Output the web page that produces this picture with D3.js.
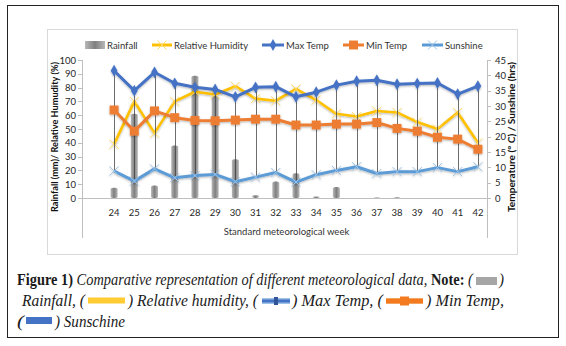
<!DOCTYPE html>
<html lang="en">
<head>
<meta charset="UTF-8">
<title>Meteorological data by week</title>
<script src="https://d3js.org/d3.v7.min.js"></script>
<style>
    body { margin: 0; background: #fff; }
    .tick_text { font-family: Lato, "Open Sans", sans-serif; font-size: 9.5px; fill: #262626; }
    .axis_title { font-family: Lato, "Open Sans", sans-serif; font-size: 9px; font-weight: bold; fill: #111; }
    .legend_text { font-family: Lato, "Open Sans", sans-serif; font-size: 9.5px; fill: #333; }
    .caption { font-family: "Liberation Serif", "DejaVu Serif", serif; font-size: 16px; fill: #1a1a1a; }
</style>
</head>
<body>
<svg width="566" height="346"></svg>

<script>
    // weekly data
    const weeks = [24, 25, 26, 27, 28, 29, 30, 31, 32, 33, 34, 35, 36, 37, 38, 39, 40, 41, 42];
    const rainfall = [7.5, 61, 9, 38, 88.5, 74, 28, 2, 12, 18, 1, 8, 0, 0.3, 0.5, 0, 0, 0, 0];
    const humidity = [39, 70, 47, 70, 77, 75, 81, 72, 70.5, 79, 71, 61, 59, 63, 62, 55, 50, 62, 40];
    const maxTemp = [41.5, 35, 41, 37.4, 36.1, 35.4, 33, 36.1, 36.3, 33, 34.5, 36.8, 38.1, 38.4, 37.1, 37.3, 37.5, 33.9, 36.5];
    const minTemp = [28.7, 21.8, 28.4, 26.2, 25.3, 25.2, 25.4, 25.7, 25.7, 23.8, 23.8, 24.1, 24.1, 24.6, 22.7, 21.8, 19.8, 19.2, 15.9];
    const sunshine = [8.8, 5.5, 9.5, 6.6, 7.3, 7.7, 5.3, 6.8, 8.3, 5.2, 7.6, 9.0, 10.2, 8.0, 8.6, 8.6, 9.9, 8.6, 10.2];

    const leftTicks = [0, 10, 20, 30, 40, 50, 60, 70, 80, 90, 100];
    const rightTicks = [0, 5, 10, 15, 20, 25, 30, 35, 40, 45];

    const svg = d3.select("svg");

    // plot frame
    const axL = 82, axR = 487, yTop = 60, yZero = 198, yBottom = 238;

    const x = d3.scaleBand().domain(weeks).range([104, 488]);
    const yL = d3.scaleLinear().domain([0, 100]).range([yZero, yTop]);
    const yR = d3.scaleLinear().domain([0, 45]).range([yZero, yTop]);
    const cx = w => x(w) + x.bandwidth() / 2;

    // borders
    svg.append("rect").attr("x", 7.5).attr("y", 5.5).attr("width", 551).attr("height", 332)
        .attr("fill", "none").attr("stroke", "#222").attr("stroke-width", 1);
    svg.append("rect").attr("x", 47.5).attr("y", 29.5).attr("width", 470).attr("height", 225)
        .attr("fill", "none").attr("stroke", "#d9d9d9").attr("stroke-width", 1);

    const defs = svg.append("defs");
    const grad = defs.append("linearGradient").attr("id", "barGrad")
        .attr("x1", "0").attr("x2", "1").attr("y1", "0").attr("y2", "0");
    grad.append("stop").attr("offset", "0%").attr("stop-color", "#b8b8b8");
    grad.append("stop").attr("offset", "50%").attr("stop-color", "#7f7f7f");
    grad.append("stop").attr("offset", "100%").attr("stop-color", "#b8b8b8");

    const shadow = defs.append("filter").attr("id", "glow")
        .attr("x", "-10%").attr("y", "-10%").attr("width", "120%").attr("height", "130%");
    shadow.append("feGaussianBlur").attr("in", "SourceAlpha").attr("stdDeviation", 1.2).attr("result", "b");
    shadow.append("feOffset").attr("in", "b").attr("dy", 1).attr("result", "o");
    shadow.append("feComponentTransfer").attr("in", "o").attr("result", "s")
        .append("feFuncA").attr("type", "linear").attr("slope", 0.3);
    const merge = shadow.append("feMerge");
    merge.append("feMergeNode").attr("in", "s");
    merge.append("feMergeNode").attr("in", "SourceGraphic");

    // axes lines
    const axisColor = "#bfbfbf";
    svg.append("line").attr("x1", axL + 0.5).attr("x2", axL + 0.5).attr("y1", yTop).attr("y2", yBottom)
        .attr("stroke", axisColor);
    svg.append("line").attr("x1", axR + 0.5).attr("x2", axR + 0.5).attr("y1", yTop).attr("y2", yBottom)
        .attr("stroke", axisColor);
    svg.append("line").attr("x1", axL).attr("x2", axR).attr("y1", yZero + 0.5).attr("y2", yZero + 0.5)
        .attr("stroke", axisColor);

    // left ticks
    const lt = svg.append("g");
    lt.selectAll("line").data(leftTicks).join("line")
        .attr("x1", axL - 4).attr("x2", axL)
        .attr("y1", d => Math.round(yL(d)) + 0.5).attr("y2", d => Math.round(yL(d)) + 0.5)
        .attr("stroke", axisColor);
    lt.selectAll("text").data(leftTicks).join("text")
        .attr("class", "tick_text").attr("text-anchor", "end")
        .attr("x", axL - 6).attr("y", d => yL(d) + 3.5).text(d => d);

    // right ticks
    const rt = svg.append("g");
    rt.selectAll("line").data(rightTicks).join("line")
        .attr("x1", axR).attr("x2", axR + 4)
        .attr("y1", d => Math.round(yR(d)) + 0.5).attr("y2", d => Math.round(yR(d)) + 0.5)
        .attr("stroke", axisColor);
    rt.selectAll("text").data(rightTicks).join("text")
        .attr("class", "tick_text").attr("text-anchor", "start")
        .attr("x", axR + 8).attr("y", d => yR(d) + 3.5).text(d => d);

    // category labels
    svg.append("g").selectAll("text").data(weeks).join("text")
        .attr("class", "tick_text").attr("text-anchor", "middle")
        .attr("x", d => cx(d)).attr("y", 215.5).text(d => d);

    // axis titles
    svg.append("text").attr("class", "legend_text").attr("text-anchor", "middle")
        .attr("x", (axL + axR) / 2 + 2).attr("y", 235).text("Standard meteorological week");
    svg.append("text").attr("class", "axis_title").attr("text-anchor", "middle")
        .attr("transform", "translate(58,137) rotate(-90)")
        .attr("textLength", 150).attr("lengthAdjust", "spacingAndGlyphs")
        .text("Rainfall (mm)/ Relative Humudity (%)");
    svg.append("text").attr("class", "axis_title").attr("text-anchor", "middle")
        .attr("transform", "translate(515,137) rotate(-90)")
        .attr("textLength", 150).attr("lengthAdjust", "spacingAndGlyphs")
        .text("Temperature (° C) / Sunshine (hrs)");

    // rainfall bars
    const barW = 7;
    svg.append("g").selectAll("rect").data(weeks).join("rect")
        .attr("x", (d) => cx(d) - barW / 2)
        .attr("y", (d, i) => yL(rainfall[i]))
        .attr("width", barW)
        .attr("height", (d, i) => yZero - yL(rainfall[i]))
        .attr("rx", 2.5).attr("ry", 1.5)
        .attr("fill", "url(#barGrad)");

    // marker shapes
    const diamond = d3.symbol().type(d3.symbolDiamond).size(40);
    const square = d3.symbol().type(d3.symbolSquare).size(80);
    const cross = d3.symbol().type(d3.symbolX).size(55);

    function drawSeries(values, scale, color, width, marker, markerColor, markerStroke) {
        const g = svg.append("g").attr("filter", "url(#glow)");
        const line = d3.line().x((d, i) => cx(weeks[i])).y(d => scale(d));
        g.append("path").datum(values).attr("d", line)
            .attr("fill", "none").attr("stroke", color).attr("stroke-width", width)
            .attr("stroke-linejoin", "round");
        const m = g.selectAll("path.m").data(values).join("path").attr("class", "m")
            .attr("transform", (d, i) => `translate(${cx(weeks[i])},${scale(d)})`)
            .attr("d", marker);
        if (markerStroke) {
            m.attr("fill", "none").attr("stroke", markerColor).attr("stroke-width", markerStroke);
        } else {
            m.attr("fill", markerColor);
        }
    }

    drawSeries(humidity, yL, "#ffc000", 2.6, cross, "#ffd966", 1);

    // high-low lines, max temp down to sunshine
    svg.append("g").selectAll("line").data(weeks).join("line")
        .attr("x1", d => Math.round(cx(d)) + 0.5).attr("x2", d => Math.round(cx(d)) + 0.5)
        .attr("y1", (d, i) => yR(maxTemp[i])).attr("y2", (d, i) => yR(sunshine[i]))
        .attr("stroke", "#404040").attr("stroke-width", 0.9).attr("opacity", 0.85);

    drawSeries(sunshine, yR, "#5b9bd5", 3, cross, "#9dc3e6", 1);
    drawSeries(minTemp, yR, "#ed7d31", 3, square, "#ed7d31");
    drawSeries(maxTemp, yR, "#4472c4", 3, diamond, "#4472c4");

    // legend
    const legY = 45;
    const leg = svg.append("g");
    leg.append("rect").attr("x", 85).attr("y", legY - 4).attr("width", 20).attr("height", 8)
        .attr("fill", "url(#barGrad)");
    leg.append("text").attr("class", "legend_text").attr("x", 107).attr("y", legY + 3.5).text("Rainfall");

    const legendLines = [
        {x0: 152, x1: 172, tx: 174, color: "#ffc000", marker: cross, mc: "#ffd966", stroke: 1, label: "Relative Humidity"},
        {x0: 262, x1: 284, tx: 286, color: "#4472c4", marker: diamond, mc: "#4472c4", stroke: 0, label: "Max Temp"},
        {x0: 343, x1: 364, tx: 366, color: "#ed7d31", marker: square, mc: "#ed7d31", stroke: 0, label: "Min Temp"},
        {x0: 422, x1: 443, tx: 445, color: "#5b9bd5", marker: cross, mc: "#9dc3e6", stroke: 1, label: "Sunshine"}
    ];
    legendLines.forEach(l => {
        leg.append("line").attr("x1", l.x0).attr("x2", l.x1).attr("y1", legY).attr("y2", legY)
            .attr("stroke", l.color).attr("stroke-width", 3);
        const mk = leg.append("path").attr("d", l.marker)
            .attr("transform", `translate(${(l.x0 + l.x1) / 2},${legY})`);
        if (l.stroke) mk.attr("fill", "none").attr("stroke", l.mc).attr("stroke-width", l.stroke);
        else mk.attr("fill", l.mc);
        leg.append("text").attr("class", "legend_text").attr("x", l.tx).attr("y", legY + 3.5).text(l.label);
    });

    // caption: each run of text is squeezed horizontally to fit its slot
    const cap = svg.append("g");
    function capText(x0, x1, y, parts) {
        const g = cap.append("g");
        const t = g.append("text").attr("class", "caption").attr("x", 0).attr("y", 0);
        parts.forEach(p => {
            t.append("tspan").attr("font-style", p.b ? "normal" : "italic")
                .attr("font-weight", p.b ? "bold" : "normal").text(p.t);
        });
        const w = t.node().getComputedTextLength();
        g.attr("transform", `translate(${x0},${y}) scale(${(x1 - x0) / w},1)`);
    }
    function swatch(x0, x1, y, h, color) {
        cap.append("rect").attr("x", x0).attr("y", y - h / 2).attr("width", x1 - x0).attr("height", h)
            .attr("fill", color);
    }

    capText(17, 473, 285, [
        {t: "Figure 1)", b: true},
        {t: " Comparative representation of different meteorological data,"},
        {t: " Note:", b: true},
        {t: " ("}
    ]);
    swatch(476, 497, 281, 8, "#a6a6a6");
    capText(499, 504, 285, [{t: ")"}]);

    capText(22, 85, 306, [{t: "Rainfall, ("}]);
    swatch(88, 125, 300.5, 6, "#ffcc33");
    capText(128, 258, 306, [{t: ") Relative humidity, ("}]);
    swatch(262, 290, 301, 6, "#9dc3e6");
    swatch(262, 290, 301, 3, "#4472c4");
    swatch(274, 278, 301, 8, "#2f5597");
    capText(292, 383, 306, [{t: ") Max Temp, ("}]);
    swatch(386, 423, 301, 6, "#f4a460");
    swatch(386, 423, 301, 4, "#f47a20");
    swatch(400, 409, 301, 9, "#f47a20");
    capText(426, 504, 306, [{t: ") Min Temp,"}]);

    capText(17, 24, 327, [{t: "("}]);
    swatch(26, 52, 320.5, 7, "#4472c4");
    capText(55, 125, 327, [{t: ") Sunschine"}]);
</script>
</body>
</html>
